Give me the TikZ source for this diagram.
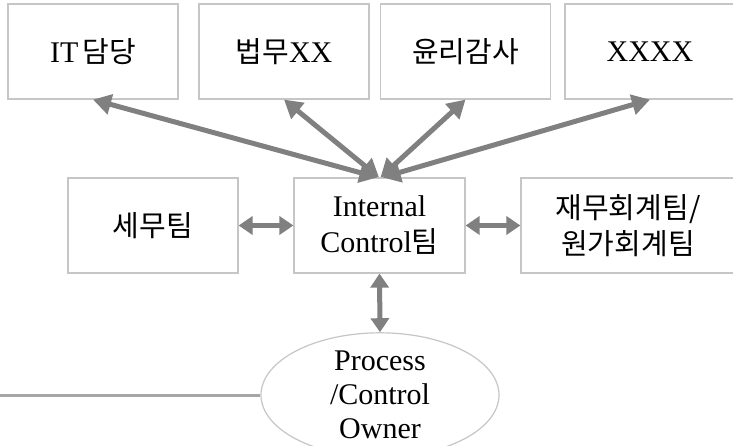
\documentclass[tikz,border=0pt]{standalone}
\usepackage{fontspec}
\setmainfont{Liberation Serif}
\newfontfamily\krfont{Noto Sans CJK KR}
\usetikzlibrary{arrows.meta,shapes.geometric}
\newcommand{\kr}[1]{{\krfont\fontsize{29}{35}\selectfont #1}}
\definecolor{boxgray}{HTML}{C6C6C6}
\definecolor{arrgray}{HTML}{808080}
\definecolor{linegray}{HTML}{A6A6A6}
\begin{document}
\begin{tikzpicture}[x=1pt,y=-1pt,
  box/.style={draw=boxgray, line width=1.2pt, fill=white, minimum height=95pt,
    minimum width=170pt, inner sep=0pt, font=\fontsize{30}{36}\selectfont, align=center},
  owner/.style={ellipse, draw=boxgray, line width=1.2pt, fill=white, minimum width=238pt,
    minimum height=108pt, inner sep=0pt, font=\fontsize{30}{34}\selectfont, align=center},
  biarrow/.style={draw=arrgray, line width=5pt,
    {Triangle[length=18pt,width=20pt]}-{Triangle[length=18pt,width=20pt]}},
  sidearrow/.style={draw=arrgray, line width=5pt,
    {Triangle[length=14pt,width=18pt]}-{Triangle[length=14pt,width=18pt]}},
  feed/.style={draw=linegray, line width=3pt}]
\clip (0,0) rectangle (733,446);
\fill[white] (0,0) rectangle (733,446);
% top row
\node[box] (it)  at (93,51.5)    {IT\hspace{4pt}\kr{담당}};
\node[box] (law) at (284,51.5)   {\kr{법무}XX};
\node[box] (eth) at (465.5,51.5) {\kr{윤리감사}};
\node[box] (xx)  at (650,51.5)   {XXXX};
% middle row
\node[box] (tax) at (153,225.5)  {\kr{세무팀}};
\node[box, minimum width=171pt] (ic) at (379.5,225.5) {Internal\\Control\kr{팀}};
\node[box, minimum width=214pt] (fin) at (628,225.5) {\kr{재무회계팀/}\\\kr{원가회계팀}};
% owner
\node[owner] (po) at (380,395) {Process\\/Control\\Owner};
\coordinate (lend) at (0,395);
% connectors
\draw[biarrow] (it.south)  -- ([xshift=-2pt]ic.north);
\draw[biarrow] (law.south) -- ([xshift=-0.5pt]ic.north);
\draw[biarrow] (eth.south) -- ([xshift=1pt]ic.north);
\draw[biarrow] (xx.south)  -- ([xshift=3pt]ic.north);
\draw[sidearrow] (tax.east) -- (ic.west);
\draw[sidearrow] (ic.east) -- (fin.west);
\draw[sidearrow] (ic.south) -- (po.north);
\draw[feed] (po.west) -- (lend);
\end{tikzpicture}
\end{document}
